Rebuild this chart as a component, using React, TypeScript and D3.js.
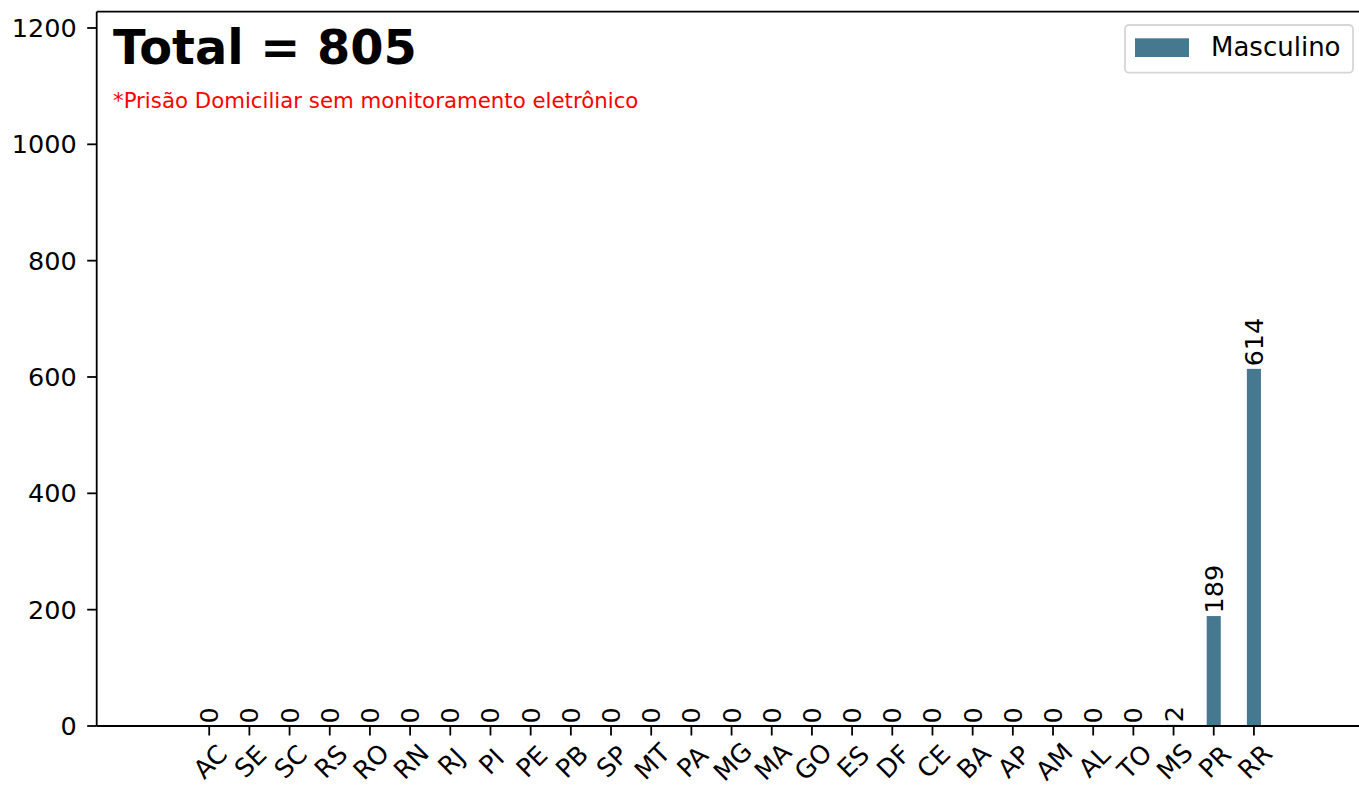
import React from "react";
import * as d3 from "d3";

const categories = ["AC","SE","SC","RS","RO","RN","RJ","PI","PE","PB","SP","MT","PA","MG","MA","GO","ES","DF","CE","BA","AP","AM","AL","TO","MS","PR","RR"];
const masculino = [0,0,0,0,0,0,0,0,0,0,0,0,0,0,0,0,0,0,0,0,0,0,0,0,2,189,614];
const yTicks = [0, 200, 400, 600, 800, 1000, 1200];
const totalLabel = "Total = 805";
const noteLabel = "*Prisão Domiciliar sem monitoramento eletrônico";
const legendLabel = "Masculino";

const W = 1359;
const H = 786;
const left = 96.7;
const right = 1360;
const top = 11.7;
const bottom = 726;
const barColor = "#46788f";
const font = "'DejaVu Sans', sans-serif";
const fs = 25.5;

export default function App() {
  const x = d3.scaleLinear().domain([-2.8, 28.64]).range([left, right]);
  const y = d3.scaleLinear().domain([0, 1228]).range([bottom, top]);
  const bw = x(0.35) - x(0);

  return (
    <div style={{ position: "absolute", left: 0, top: 0 }}>
      <svg width={W} height={H} style={{ display: "block", background: "#fff" }} fontFamily={font}>
        {masculino.map((v, i) => (
          <rect key={"b" + i} x={x(i) - bw / 2} y={y(v)} width={bw} height={y(0) - y(v)} fill={barColor} />
        ))}
        {masculino.map((v, i) => (
          <text
            key={"l" + i}
            transform={`translate(${x(i)},${y(v) - 2.5}) rotate(-90)`}
            fontSize={fs}
            textAnchor="start"
            dominantBaseline="central"
            fill="#000"
          >
            {v}
          </text>
        ))}
        <line x1={left} x2={left} y1={top} y2={bottom} stroke="#000" strokeWidth={1.8} />
        <line x1={left} x2={right} y1={bottom} y2={bottom} stroke="#000" strokeWidth={1.8} />
        <line x1={left} x2={right} y1={top} y2={top} stroke="#000" strokeWidth={1.8} />
        <line x1={right} x2={right} y1={top} y2={bottom} stroke="#000" strokeWidth={1.8} />
        {yTicks.map((t) => (
          <g key={"y" + t}>
            <line x1={left - 9.5} x2={left} y1={y(t)} y2={y(t)} stroke="#000" strokeWidth={1.8} />
            <text x={left - 20} y={y(t)} fontSize={fs} textAnchor="end" dominantBaseline="central">
              {t}
            </text>
          </g>
        ))}
        {categories.map((c, i) => (
          <g key={"x" + i}>
            <line x1={x(i)} x2={x(i)} y1={bottom} y2={bottom + 9.5} stroke="#000" strokeWidth={1.8} />
            <text
              transform={`translate(${x(i) + 1},${bottom + 35.5}) rotate(-45)`}
              fontSize={fs}
              textAnchor="middle"
              dominantBaseline="central"
            >
              {c}
            </text>
          </g>
        ))}
        <text x={113} y={63.5} fontSize={47.8} fontWeight="bold" fill="#000">
          {totalLabel}
        </text>
        <text x={113} y={108} fontSize={21.3} fill="#ff0000">
          {noteLabel}
        </text>
        <rect x={1125} y={25} width={228} height={47.7} rx={4} fill="#fff" fillOpacity={0.8} stroke="#d6d6d6" strokeWidth={1.8} />
        <rect x={1135} y={38.3} width={54} height={18.7} fill={barColor} />
        <text x={1211} y={56} fontSize={26} fill="#000">
          {legendLabel}
        </text>
      </svg>
    </div>
  );
}
